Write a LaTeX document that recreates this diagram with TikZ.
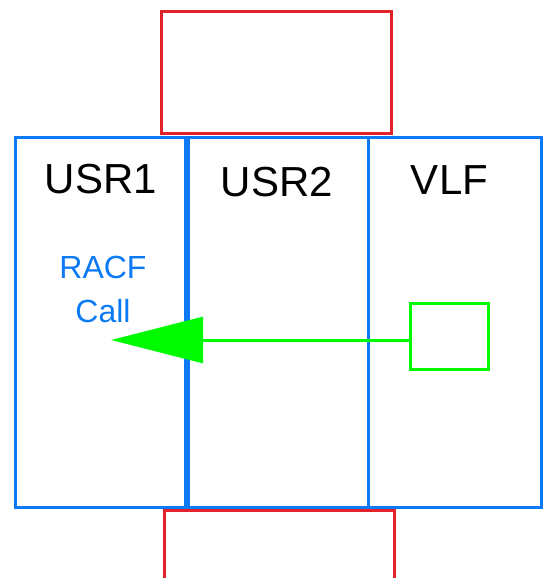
\documentclass[tikz,border=0pt]{standalone}
\usepackage{fontspec}
\setmainfont{Liberation Sans}
\usepackage{xcolor}
\usepackage{tikz}
\usetikzlibrary{arrows.meta}
\definecolor{laneblue}{RGB}{12,122,245}
\definecolor{stubred}{RGB}{226,35,42}
\definecolor{callgreen}{RGB}{0,250,0}
\tikzset{
  lane/.style={draw=laneblue, line width=3pt, inner sep=0pt, minimum height=370pt},
  stub/.style={draw=stubred, line width=3pt, inner sep=0pt, minimum width=230pt},
  lanetitle/.style={anchor=base, font=\fontsize{42}{50}\selectfont},
}

\begin{document}
\begin{tikzpicture}[x=1pt,y=-1pt]
\useasboundingbox (0,0) rectangle (544,578);
\node[stub, minimum height=121pt] (topstub) at (276,72.5) {};
\node[stub, minimum height=110pt] (botstub) at (279,565) {};
\node[lane, minimum width=170.8pt] (usrone) at (100.4,322) {};
\node[lane, minimum width=179.4pt] (usrtwo) at (278.3,322) {};
\node[lane, minimum width=173.5pt] (vlf) at (454.75,322) {};
\node[lanetitle] (usronetitle) at (101,193) {USR1};
\node[lanetitle] (usrtwotitle) at (277,196) {USR2};
\node[lanetitle] (vlftitle) at (449.5,194) {VLF};
\node[anchor=base, align=center, text=laneblue, font=\fontsize{32}{44}\selectfont] (racf) at (103,322) {RACF\\Call};
\node[draw=callgreen, line width=3pt, minimum width=78pt, minimum height=66pt, inner sep=0pt] (src) at (449.5,336.5) {};
\coordinate (tip) at (111,340);
\draw[callgreen, line width=3pt, -{Triangle[length=92pt, width=46pt]}] (src.west |- tip) -- (tip);
\end{tikzpicture}
\end{document}
